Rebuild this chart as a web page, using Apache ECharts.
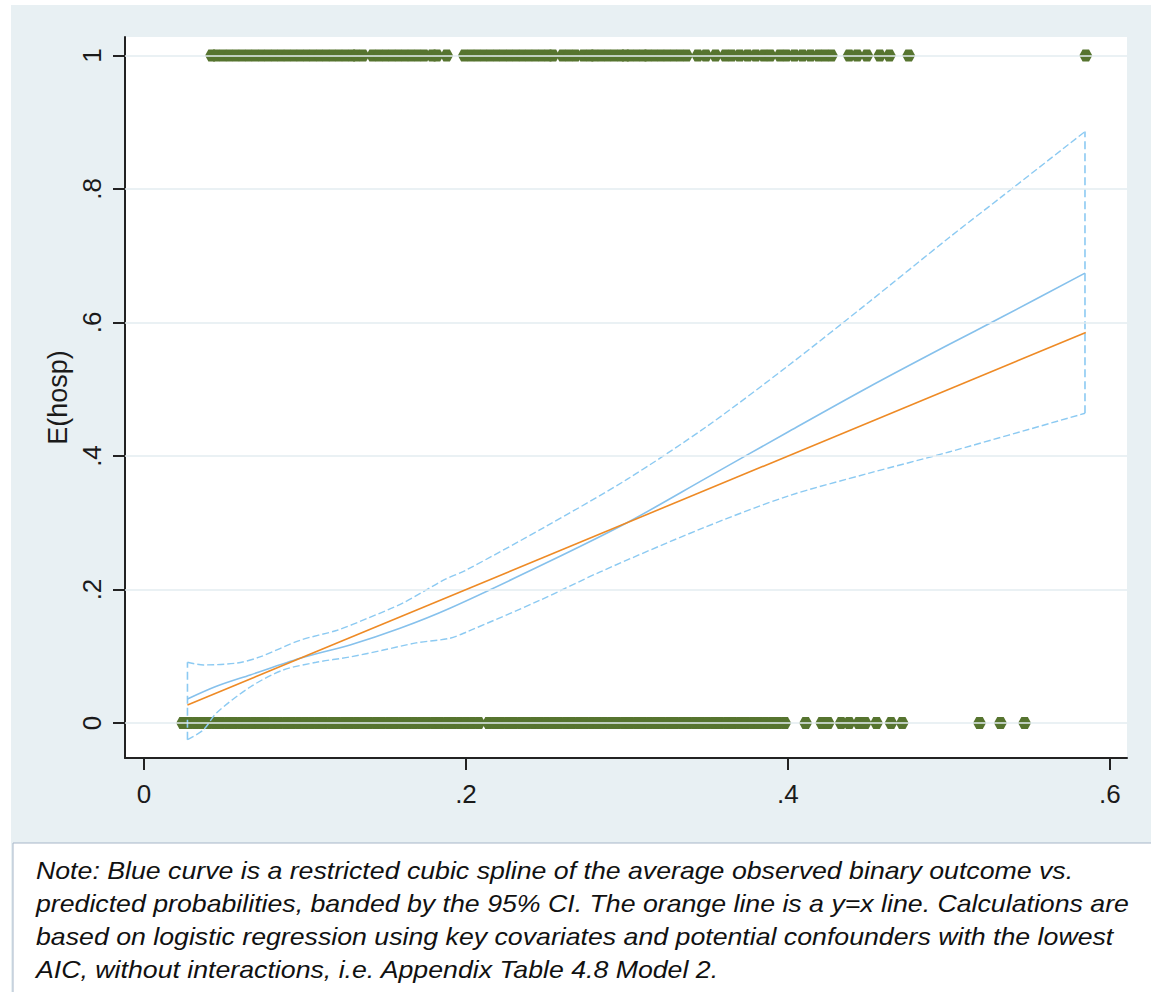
<!DOCTYPE html>
<html>
<head>
<meta charset="utf-8">
<script src="https://cdn.jsdelivr.net/npm/echarts@6/dist/echarts.min.js"></script>
<style>
html,body{margin:0;padding:0;background:#fff;}
#chart{width:1151px;height:992px;}
</style>
</head>
<body>
<div id="chart"></div>
<script>
// ---- tick values and labels ----
const xTicks = [0, 0.2, 0.4, 0.6];
const xTickLabels = ['0', '.2', '.4', '.6'];
const yTicks = [0, 0.2, 0.4, 0.6, 0.8, 1];
const yTickLabels = ['0', '.2', '.4', '.6', '.8', '1'];
const yTitle = 'E(hosp)';

// ---- observed outcome (hosp = 1) at predicted probability ----
const hosp1X = [0.042,
  0.045,0.049,0.053,0.057,0.061,0.065,0.069,0.073,0.077,0.081,0.085,0.089,0.093,0.097,0.101,0.105,0.109,0.113,0.117,0.121,0.125,0.129,0.132,
  0.136,
  0.142,0.146,0.150,0.154,0.158,0.162,0.166,0.170,0.174,0.179,0.182,
  0.188,0.199,0.203,0.207,0.211,
  0.215,0.219,0.223,0.227,0.231,0.235,0.239,0.243,0.247,0.251,0.254,
  0.260,0.264,0.268,0.273,0.277,0.280,0.284,0.288,0.292,0.296,0.299,
  0.302,0.306,0.310,0.313,0.317,0.321,0.325,0.329,0.333,0.337,
  0.344,0.349,0.355,
  0.361,0.365,0.370,0.375,0.380,0.385,0.389,
  0.395,0.399,0.404,0.409,0.414,0.419,0.423,0.427,
  0.438,0.443,0.449,0.457,0.463,0.475,0.585];

// ---- observed outcome (hosp = 0) at predicted probability ----
const hosp0X = [0.024,0.028,0.032,0.036,0.040,0.044,0.048,0.052,0.056,0.060,0.064,0.068,0.072,0.076,0.080,0.084,0.088,0.092,0.096,0.100,
  0.104,0.108,0.112,0.116,0.120,0.124,0.128,0.132,0.136,0.140,0.144,0.148,0.152,0.156,0.160,0.164,0.168,0.172,0.176,0.180,
  0.184,0.188,0.192,0.196,0.200,0.204,0.208,0.214,0.218,0.222,0.226,0.230,0.234,0.238,0.242,0.246,0.250,0.254,0.258,0.262,
  0.266,0.270,0.274,0.278,0.282,0.286,0.290,0.294,0.298,0.302,0.306,0.310,0.314,0.318,0.322,0.326,0.330,0.334,0.338,0.342,
  0.346,0.350,0.354,0.358,0.362,0.366,0.370,0.374,0.378,0.382,0.386,0.390,0.394,0.398,
  0.411,0.421,0.425,0.433,0.438,0.444,0.448,0.455,0.464,0.471,0.519,0.532,0.547];

// ---- restricted cubic spline (blue) and its 95% CI ----
const splineX = [0.027,0.045,0.066,0.097,0.128,0.159,0.190,0.250,0.300,0.350,0.400,0.450,0.500,0.532,0.5845];
const splineY = [0.036,0.055,0.072,0.097,0.117,0.142,0.172,0.240,0.300,0.368,0.436,0.503,0.567,0.607,0.674];
const upperX = [0.027,0.037,0.058,0.072,0.097,0.120,0.139,0.161,0.186,0.200,0.250,0.300,0.350,0.400,0.450,0.500,0.532,0.5845];
const upperY = [0.091,0.087,0.090,0.099,0.124,0.139,0.157,0.180,0.214,0.229,0.295,0.365,0.445,0.535,0.630,0.727,0.787,0.886];
const lowerX = [0.027,0.037,0.045,0.066,0.086,0.107,0.128,0.148,0.169,0.190,0.200,0.246,0.283,0.345,0.400,0.450,0.500,0.5845];
const lowerY = [-0.025,-0.010,0.015,0.054,0.079,0.091,0.099,0.109,0.120,0.127,0.136,0.184,0.226,0.290,0.340,0.374,0.406,0.464];

// ---- y = x reference line (orange) ----
const refX = [0.027, 0.585];
const refY = [0.027, 0.585];

const noteLines = [
  'Note: Blue curve is a restricted cubic spline of the average observed binary outcome vs.',
  'predicted probabilities, banded by the 95% CI. The orange line is a y=x line. Calculations are',
  'based on logistic regression using key covariates and potential confounders with the lowest',
  'AIC, without interactions, i.e. Appendix Table 4.8 Model 2.'
];

const FONT = '"Liberation Sans", Arial, sans-serif';
function pickLabel(ticks, labels, v) {
  let best = 0;
  for (let i = 1; i < ticks.length; i++) if (Math.abs(ticks[i] - v) < Math.abs(ticks[best] - v)) best = i;
  return labels[best];
}
const pairs = (xs, ys) => xs.map((x, i) => [x, ys[i]]);

const chart = echarts.init(document.getElementById('chart'), null, {renderer: 'svg'});
const blueDash = '#8ccaf2';
const dotShape = 'path://M0,6 L3,0 L9,0 L12,6 L9,12 L3,12 Z';
const option = {
  backgroundColor: '#e8f0f3',
  animation: false,
  grid: {left: 125, right: 24, top: 37, bottom: 234, show: true, backgroundColor: '#ffffff', borderWidth: 0},
  xAxis: {
    type: 'value', min: -0.0118, max: 0.6106,
    axisLine: {show: true, onZero: false, lineStyle: {color: '#222', width: 2}},
    axisTick: {show: true, length: 12, customValues: xTicks, lineStyle: {color: '#222', width: 2}},
    axisLabel: {customValues: xTicks, margin: 23, fontSize: 26, color: '#1a1a1a', fontFamily: FONT,
      formatter: v => pickLabel(xTicks, xTickLabels, v)},
    splitLine: {show: false}
  },
  yAxis: {
    type: 'value', min: -0.0524, max: 1.0277,
    name: yTitle, nameLocation: 'middle', nameGap: 51, nameRotate: 90,
    nameTextStyle: {fontSize: 27, color: '#1a1a1a', fontFamily: FONT},
    axisLine: {show: true, onZero: false, lineStyle: {color: '#222', width: 2}},
    axisTick: {show: true, length: 12, customValues: yTicks, lineStyle: {color: '#222', width: 2}},
    axisLabel: {customValues: yTicks, rotate: 90, margin: 20, fontSize: 26, color: '#1a1a1a', fontFamily: FONT,
      formatter: v => pickLabel(yTicks, yTickLabels, v)},
    splitLine: {show: false}
  },
  graphic: [
    {type: 'rect', shape: {x: 0, y: 0, width: 11, height: 992}, style: {fill: '#ffffff'}, silent: true},
    {type: 'rect', shape: {x: 0, y: 0, width: 1151, height: 5}, style: {fill: '#ffffff'}, silent: true},
    {type: 'rect', shape: {x: 13, y: 843, width: 1200, height: 200}, style: {fill: '#ffffff', stroke: '#a7b6c8', lineWidth: 1}, silent: true}
  ].concat(noteLines.map((t, i) => ({
    type: 'text', x: 36, y: 870 + i * 33.2, scaleX: 1.113, silent: true,
    style: {text: t, font: 'italic 24px ' + FONT, fill: '#111', verticalAlign: 'middle', align: 'left'}
  }))),
  series: [
    {type: 'line', data: [], z: 1, silent: true,
      markLine: {silent: true, symbol: ['none', 'none'], label: {show: false},
        lineStyle: {color: '#e3ecf0', width: 1.5, type: 'solid'},
        data: yTicks.map(v => ({yAxis: v}))}},
    {type: 'scatter', z: 2, symbol: dotShape, symbolSize: [13, 12], itemStyle: {color: '#56742f', opacity: 1},
      data: hosp1X.map(x => [x, 1]).concat(hosp0X.map(x => [x, 0]))},
    {type: 'line', z: 3, data: pairs(upperX, upperY), smooth: 0.3, showSymbol: false,
      lineStyle: {color: blueDash, width: 1.4, type: [7, 3]}},
    {type: 'line', z: 3, data: pairs(lowerX, lowerY), smooth: 0.3, showSymbol: false,
      lineStyle: {color: blueDash, width: 1.4, type: [7, 3]}},
    {type: 'line', z: 3, data: [[lowerX[0], lowerY[0]], [upperX[0], upperY[0]]], showSymbol: false,
      lineStyle: {color: blueDash, width: 1.6, type: [8, 4]}},
    {type: 'line', z: 3, data: [[lowerX[lowerX.length - 1], lowerY[lowerY.length - 1]], [upperX[upperX.length - 1], upperY[upperY.length - 1]]], showSymbol: false,
      lineStyle: {color: blueDash, width: 1.6, type: [8, 4]}},
    {type: 'line', z: 4, data: pairs(splineX, splineY), smooth: 0.3, showSymbol: false,
      lineStyle: {color: '#86c1ec', width: 1.6}},
    {type: 'line', z: 5, data: pairs(refX, refY), showSymbol: false,
      lineStyle: {color: '#ee8a25', width: 1.6}}
  ]
};
chart.setOption(option);
</script>
</body>
</html>
